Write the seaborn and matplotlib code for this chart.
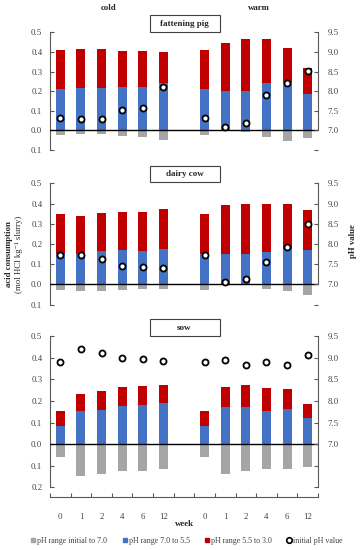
import matplotlib
matplotlib.use("Agg")
import matplotlib.pyplot as plt
from matplotlib.lines import Line2D
from matplotlib.patches import Rectangle
import numpy as np
import pandas as pd
import seaborn as sns

sns.set_theme(style="white")
plt.rcParams['font.family'] = ['Liberation Serif', 'DejaVu Serif']

# ---------------- data ----------------
weeks = ['0', '1', '2', '4', '6', '12']
groups = ['cold', 'warm']
panels = ['fattening pig', 'dairy cow', 'sow']

# fattening pig
fp_cold_total = [0.408, 0.415, 0.415, 0.406, 0.403, 0.398]
fp_cold_blue = [0.211, 0.218, 0.218, 0.223, 0.223, 0.240]
fp_cold_grey = [-0.022, -0.017, -0.017, -0.027, -0.032, -0.051]
fp_cold_ph = [7.32, 7.30, 7.29, 7.53, 7.58, 8.10]
fp_warm_total = [0.408, 0.447, 0.464, 0.466, 0.422, 0.320]
fp_warm_blue = [0.211, 0.202, 0.202, 0.241, 0.245, 0.185]
fp_warm_grey = [-0.022, 0.0, -0.006, -0.036, -0.053, -0.037]
fp_warm_ph = [7.32, 7.08, 7.20, 7.91, 8.20, 8.51]

# dairy cow
dc_cold_total = [0.347, 0.338, 0.351, 0.356, 0.360, 0.371]
dc_cold_blue = [0.153, 0.153, 0.163, 0.170, 0.165, 0.177]
dc_cold_grey = [-0.028, -0.031, -0.030, -0.025, -0.020, -0.021]
dc_cold_ph = [7.74, 7.73, 7.64, 7.46, 7.44, 7.41]
dc_warm_total = [0.347, 0.393, 0.398, 0.396, 0.399, 0.368]
dc_warm_blue = [0.153, 0.152, 0.153, 0.158, 0.175, 0.170]
dc_warm_grey = [-0.028, 0.0, 0.0, -0.021, -0.033, -0.053]
dc_warm_ph = [7.74, 7.07, 7.13, 7.55, 7.92, 8.49]

# sow
sw_cold_total = [0.152, 0.233, 0.245, 0.263, 0.269, 0.275]
sw_cold_blue = [0.085, 0.152, 0.160, 0.175, 0.180, 0.190]
sw_cold_grey = [-0.061, -0.149, -0.140, -0.125, -0.122, -0.116]
sw_cold_ph = [8.89, 9.21, 9.11, 9.00, 8.96, 8.92]
sw_warm_total = [0.152, 0.263, 0.275, 0.259, 0.256, 0.184]
sw_warm_blue = [0.085, 0.172, 0.172, 0.152, 0.161, 0.122]
sw_warm_grey = [-0.061, -0.140, -0.125, -0.116, -0.116, -0.106]
sw_warm_ph = [8.89, 8.95, 8.83, 8.89, 8.83, 9.06]

legend_labels = ['pH range initial to 7.0', 'pH range 7.0 to 5.5',
                 'pH range 5.5 to 3.0', 'initial pH value']

# ---------------- styling ----------------
RED = '#C00000'
BLUE = '#4472C4'
GREY = '#A5A5A5'
AXC = '#595959'
TXC = '#404040'

panel_data = {
    'fattening pig': (fp_cold_total, fp_cold_blue, fp_cold_grey, fp_cold_ph,
                      fp_warm_total, fp_warm_blue, fp_warm_grey, fp_warm_ph),
    'dairy cow': (dc_cold_total, dc_cold_blue, dc_cold_grey, dc_cold_ph,
                  dc_warm_total, dc_warm_blue, dc_warm_grey, dc_warm_ph),
    'sow': (sw_cold_total, sw_cold_blue, sw_cold_grey, sw_cold_ph,
            sw_warm_total, sw_warm_blue, sw_warm_grey, sw_warm_ph),
}

order = [f'cold {w}' for w in weeks] + ['gap'] + [f'warm {w}' for w in weeks]
ticklabels = weeks + [''] + weeks

W, H = 360, 550
fig = plt.figure(figsize=(3.6, 5.5), dpi=100)

# axes rectangles (pixel: y_top, y_bottom, ylim, lowest labelled tick)
rects = {
    'fattening pig': (32.3, 150.0, (-0.1, 0.5), -0.1),
    'dairy cow': (183.3, 304.7, (-0.1, 0.5), -0.1),
    'sow': (336.0, 496.7, (-0.243, 0.5), -0.2),
}
box_y = {'fattening pig': 23.5, 'dairy cow': 174.0, 'sow': 327.7}

x0, x1 = 50, 318
fs = 6.3

for pname in panels:
    ytop, ybot, ylim, lowtick = rects[pname]
    ax = fig.add_axes([x0 / W, 1 - ybot / H, (x1 - x0) / W, (ybot - ytop) / H])
    ct, cb, cg, cph, wt, wb, wg, wph = panel_data[pname]
    df = pd.DataFrame({
        'cat': [f'cold {w}' for w in weeks] + [f'warm {w}' for w in weeks],
        'total': ct + wt,
        'blue': cb + wb,
        'grey': cg + wg,
        'ph': cph + wph,
    })
    common = dict(data=df, x='cat', order=order, ax=ax, width=0.44,
                  saturation=1, linewidth=0, errorbar=None)
    sns.barplot(y='total', color=RED, **common)
    sns.barplot(y='blue', color=BLUE, **common)
    sns.barplot(y='grey', color=GREY, **common)
    ax.axhline(0, color='black', lw=1.0, zorder=5)
    ax.set_xlim(-0.5, 12.5)
    ax.set_ylim(*ylim)
    ax.set_xlabel('')
    ax.set_ylabel('')

    yt = np.round(np.arange(lowtick, 0.5001, 0.1), 1)
    ax.set_yticks(yt)
    ax.set_yticklabels([f'{abs(v):.1f}' for v in yt])
    ax.tick_params(axis='y', direction='in', length=3, color=AXC, width=0.8,
                   labelsize=fs, labelcolor=TXC, pad=5.5, left=True)
    for s in ['top', 'right']:
        ax.spines[s].set_visible(False)
    ax.spines['left'].set_bounds(lowtick, 0.5)
    ax.spines['left'].set_color(AXC)
    ax.spines['left'].set_linewidth(0.8)

    if pname == 'sow':
        ax.set_xticks(range(13))
        ax.set_xticklabels(ticklabels)
        ax.set_xticks(np.arange(-0.5, 13, 1.0), minor=True)
        ax.tick_params(axis='x', which='major', length=0, labelsize=fs,
                       labelcolor=TXC, pad=12)
        ax.tick_params(axis='x', which='minor', direction='in', length=3,
                       color=AXC, width=0.8, bottom=True)
        ax.spines['bottom'].set_color(AXC)
        ax.spines['bottom'].set_linewidth(0.8)
        ax.set_xlabel('week', fontsize=fs, fontweight='bold', labelpad=-1)
    else:
        ax.set_xticks([])
        ax.spines['bottom'].set_visible(False)

    # pH on right axis: 0 <-> 7.0, 0.5 <-> 9.5
    ax2 = ax.twinx()
    ax2.set_ylim(7 + 5 * ylim[0], 7 + 5 * ylim[1])
    xpos = [order.index(c) for c in df['cat']]
    sns.scatterplot(x=xpos, y=df['ph'], ax=ax2, marker='o', s=19,
                    facecolor='white', edgecolor='black', linewidth=1.3,
                    zorder=10, legend=False)
    ax2.set_xlim(-0.5, 12.5)
    ax2.set_ylabel('')
    low_ph = 7 + 5 * lowtick
    rt = np.round(np.arange(low_ph, 9.5001, 0.5), 1)
    ax2.set_yticks(rt)
    ax2.set_yticklabels([f'{v:.1f}' if v >= 7.0 else '' for v in rt])
    ax2.tick_params(axis='y', direction='in', length=3, color=AXC, width=0.8,
                    labelsize=fs, labelcolor=TXC, pad=7, right=True)
    for s in ['top', 'left', 'bottom']:
        ax2.spines[s].set_visible(False)
    ax2.spines['right'].set_bounds(7.0 if pname != 'sow' else low_ph, 9.5)
    ax2.spines['right'].set_color(AXC)
    ax2.spines['right'].set_linewidth(0.8)

    # title box
    bx0, bx1 = 149.5, 219.5
    by = box_y[pname]
    bh = 16.5
    fig.patches.append(Rectangle((bx0 / W, 1 - (by + bh / 2) / H),
                                 (bx1 - bx0) / W, bh / H,
                                 transform=fig.transFigure, fill=False,
                                 edgecolor='#404040', linewidth=0.8))
    fig.text((bx0 + bx1) / 2 / W, 1 - by / H, pname, ha='center', va='center',
             fontsize=6.5, fontweight='bold')

# group headers
fig.text(109 / W, 1 - 7.5 / H, groups[0], ha='center', va='center',
         fontsize=fs, fontweight='bold')
fig.text(259 / W, 1 - 7.5 / H, groups[1], ha='center', va='center',
         fontsize=fs, fontweight='bold')

# axis titles
fig.text(9.5 / W, 1 - 254 / H, 'acid consumption', rotation=90,
         ha='center', va='center', fontsize=fs, fontweight='bold')
fig.text(19.5 / W, 1 - 254 / H, '(mol HCl kg\u207b\u00b9 slurry)', rotation=90,
         ha='center', va='center', fontsize=fs)
fig.text(353 / W, 1 - 241 / H, 'pH value', rotation=90,
         ha='center', va='center', fontsize=fs, fontweight='bold')

# legend
handles = [
    Line2D([], [], marker='s', linestyle='', markerfacecolor=GREY,
           markeredgecolor=GREY, markersize=3.5),
    Line2D([], [], marker='s', linestyle='', markerfacecolor=BLUE,
           markeredgecolor=BLUE, markersize=3.5),
    Line2D([], [], marker='s', linestyle='', markerfacecolor=RED,
           markeredgecolor=RED, markersize=3.5),
    Line2D([], [], marker='o', linestyle='', markerfacecolor='white',
           markeredgecolor='black', markeredgewidth=1.2, markersize=4),
]
fig.legend(handles, legend_labels, loc='center',
           bbox_to_anchor=(187 / W, 1 - 541 / H), ncol=4, frameon=False,
           fontsize=5.7, handlelength=0.6, handletextpad=0.2,
           columnspacing=1.9, labelcolor=TXC, borderaxespad=0)

fig.savefig('out.png', dpi=100)
